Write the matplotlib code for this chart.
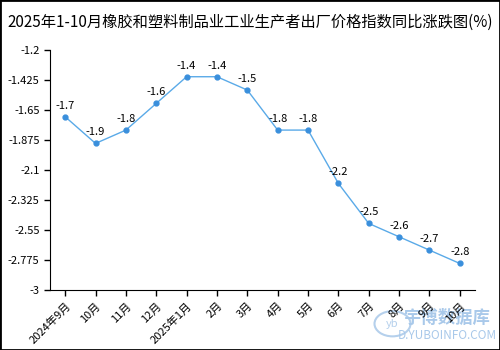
import matplotlib
matplotlib.use('Agg')
import matplotlib.pyplot as plt
import numpy as np

plt.rcParams['font.family'] = ['Noto Sans CJK SC', 'DejaVu Sans']
plt.rcParams['axes.unicode_minus'] = False

# 数据
months = ['2024年9月', '10月', '11月', '12月', '2025年1月', '2月', '3月',
          '4月', '5月', '6月', '7月', '8月', '9月', '10月']
values = [-1.7, -1.9, -1.8, -1.6, -1.4, -1.4, -1.5, -1.8, -1.8, -2.2, -2.5, -2.6, -2.7, -2.8]
yticks = [-3, -2.775, -2.55, -2.325, -2.1, -1.875, -1.65, -1.425, -1.2]

fig = plt.figure(figsize=(5, 3.5), dpi=100)
ax = fig.add_axes([0.1, 0.171, 0.85, 0.686])

x = np.arange(len(months))
ax.plot(x, values, color='#5aaae8', linewidth=1, marker='o', markersize=3.5,
        markerfacecolor='#3a8fdc', markeredgecolor='#3a8fdc')

for xi, v in zip(x, values):
    ax.text(xi, v + 0.045, str(v), ha='center', va='bottom', fontsize=8)

ax.set_xlim(-0.5, len(months) - 0.5)
ax.set_ylim(-3, -1.2)
ax.set_yticks(yticks)
ax.set_yticklabels([str(t) for t in yticks], fontsize=8)
ax.set_xticks(x)
ax.set_xticklabels(months, rotation=45, ha='right', rotation_mode='anchor', fontsize=8)
ax.tick_params(axis='both', length=4, width=1)

ax.spines['top'].set_visible(False)
ax.spines['right'].set_visible(False)

fig.text(0.5, 0.935, '2025年1-10月橡胶和塑料制品业工业生产者出厂价格指数同比涨跌图(%)',
         ha='center', va='center', fontsize=11)

# 水印(放在坐标轴下层)
fig.patches.append(plt.Circle((0.785, 0.075), 0.036, transform=fig.transFigure,
                              fill=False, edgecolor='#b5d0ec', linewidth=1.5, zorder=-1))
fig.text(0.785, 0.075, 'yb', ha='center', va='center', fontsize=8,
         color='#b5d0ec', style='italic', zorder=-1)
fig.text(0.895, 0.093, '宇博数据库', ha='center', va='center', fontsize=12.5,
         color='#a9c9ea', fontweight='bold', zorder=-1)
fig.text(0.895, 0.042, 'D.YUBOINFO.COM', ha='center', va='center', fontsize=8.5,
         color='#a9c9ea', zorder=-1)

# 外框
fig.patches.append(plt.Rectangle((0, 0), 1, 1, transform=fig.transFigure,
                                 fill=False, edgecolor='black', linewidth=2))

fig.savefig('out.png', dpi=100)
